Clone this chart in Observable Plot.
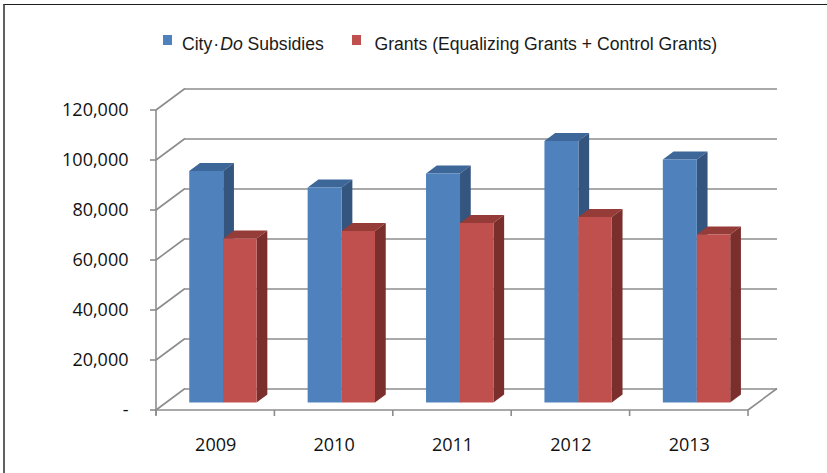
<!DOCTYPE html>
<html><head><meta charset="utf-8">
<script src="https://cdn.jsdelivr.net/npm/d3@7"></script>
<script src="https://cdn.jsdelivr.net/npm/@observablehq/plot@0.6"></script>
<style>
html,body{margin:0;padding:0;background:#fff;}
#wrap{position:relative;width:827px;height:473px;overflow:hidden;}
#frame{position:absolute;left:2.5px;top:3.5px;width:900px;height:600px;border-top:1.6px solid #1e1e1e;border-left:2px solid #606060;pointer-events:none;}
#legend{position:relative;height:60px;font-family:"Liberation Sans",Arial,sans-serif;font-size:17.6px;color:#1a1a1a;}
.sw{position:absolute;top:35px;width:9px;height:10px;}
.lt{position:absolute;top:34px;line-height:20px;white-space:nowrap;}
#chart svg{display:block;}
</style></head>
<body><div id="wrap"><div id="legend"></div><div id="chart"></div><div id="frame"></div></div>
<script>
// ---- data ----
const years = ["2009", "2010", "2011", "2012", "2013"];
const cityDoSubsidies = [92600, 86000, 91600, 104600, 97200];
const grants = [65600, 68600, 71800, 74200, 67200];
const yTicks = [0, 20000, 40000, 60000, 80000, 100000, 120000];
const seriesNames = ["City·Do Subsidies", "Grants (Equalizing Grants + Control Grants)"];

// ---- layout / style ----
const WIDTH = 827, HEIGHT = 413, ML = 156, MR = 79, MT = 50, MB = 63;
const DX = 29, DY = -21.5;      // depth vector of walls / floor
const F0 = 0.35, FD = 0.37;     // bar front offset and bar depth (fractions of depth)
const BW = (WIDTH - ML - MR) / years.length;
const styles = [
  {l: 0.195, r: 0.482, front: "#4F81BD", top: "#3D6699", side: "#34557E"},
  {l: 0.482, r: 0.764, front: "#C0504D", top: "#953B38", side: "#7A2F2D"}
];
const seriesValues = [cityDoSubsidies, grants];
const rows = seriesValues.map(vals => years.map((year, i) => ({year, value: vals[i]})));
const GRID = "#8c8c8c";

// ---- legend ----
const legend = document.getElementById("legend");
const leg = [{sx: 162.7, tx: 182}, {sx: 351.7, tx: 374.5}];
seriesNames.forEach((name, k) => {
  const sw = document.createElement("div");
  sw.className = "sw"; sw.style.left = leg[k].sx + "px"; sw.style.background = styles[k].front;
  legend.appendChild(sw);
  const t = document.createElement("div");
  t.className = "lt"; t.style.left = leg[k].tx + "px";
  if (name.includes("·Do")) {
    const [a, b] = name.split("·Do");
    t.innerHTML = a + '<span style="margin:0 1px">·</span><i>Do</i>' + b;
  } else t.textContent = name;
  legend.appendChild(t);
});

// ---- custom 3D pieces drawn from Plot scales ----
function wallsAndFloor(index, scales, values, dim) {
  const {x, y} = scales;
  const left = dim.marginLeft, right = dim.width - dim.marginRight;
  const g = d3.create("svg:g").attr("fill", "none").attr("stroke", GRID).attr("stroke-width", 1.6);
  const line = (x1, y1, x2, y2) => g.append("line").attr("x1", x1).attr("y1", y1).attr("x2", x2).attr("y2", y2);
  for (const t of yTicks) line(left, y(t), left + DX, y(t) + DY);
  line(right, y(0), right + DX, y(0) + DY);
  line(left, y(0), right, y(0));
  line(left, y(yTicks[yTicks.length - 1]), left, y(0) + 5);
  for (const t of yTicks) line(left - 6, y(t), left, y(t));
  const bounds = years.map(d => x(d)).concat([right]);
  for (const b of bounds) line(b, y(0), b, y(0) + 6);
  return g.node();
}

function barDepthFaces(index, scales) {
  const {x, y} = scales;
  const bw = x.bandwidth ? x.bandwidth() : BW;
  const g = d3.create("svg:g");
  const sx = FD * DX, sy = FD * DY;
  rows.forEach((data, k) => {
    const st = styles[k];
    for (const d of data) {
      const x0 = x(d.year) + st.l * bw + F0 * DX;
      const x1 = x(d.year) + st.r * bw + F0 * DX;
      const yt = y(d.value) + F0 * DY, yb = y(0) + F0 * DY;
      g.append("polygon").attr("fill", st.top)
        .attr("points", [[x0, yt], [x1, yt], [x1 + sx, yt + sy], [x0 + sx, yt + sy]].join(" "));
      g.append("polygon").attr("fill", st.side)
        .attr("points", [[x1, yt], [x1 + sx, yt + sy], [x1 + sx, yb + sy], [x1, yb]].join(" "));
    }
  });
  return g.node();
}

const fmt = v => v === 0 ? "-" : d3.format(",")(v);

const chart = Plot.plot({
  width: WIDTH, height: HEIGHT,
  marginLeft: ML, marginRight: MR, marginTop: MT, marginBottom: MB,
  style: {fontFamily: "'Open Sans', sans-serif", fontSize: "18px", background: "transparent", color: "#111"},
  x: {type: "band", domain: years, padding: 0, round: false, axis: null},
  y: {domain: [0, 120000], axis: null},
  marks: [
    Plot.ruleY(yTicks, {dx: DX, dy: DY, stroke: GRID, strokeWidth: 1.6}),
    wallsAndFloor,
    barDepthFaces,
    ...rows.map((data, k) => Plot.barY(data, {
      x: "year", y: "value", fill: styles[k].front,
      insetLeft: styles[k].l * BW, insetRight: (1 - styles[k].r) * BW,
      dx: F0 * DX, dy: F0 * DY
    })),
    Plot.text(yTicks, {y: d => d, text: fmt, frameAnchor: "left", dx: -28, textAnchor: "end", fill: "#111"}),
    Plot.text(years, {x: d => d, y: () => 0, dy: 35, fill: "#111"})
  ]
});
document.getElementById("chart").appendChild(chart);
</script>
</body></html>
